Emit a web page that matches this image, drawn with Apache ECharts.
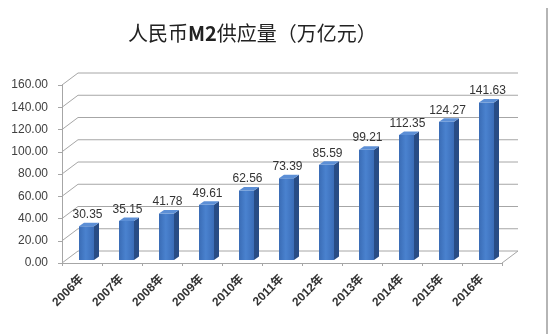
<!DOCTYPE html>
<html>
<head>
<meta charset="utf-8">
<script src="https://cdn.jsdelivr.net/npm/echarts@6/dist/echarts.min.js"></script>
<style>
  html, body { margin: 0; padding: 0; background: #fff; }
  #main { width: 550px; height: 334px; }
</style>
</head>
<body>
<div id="main"></div>
<script>
// Yearly M2 money supply (trillion yuan)
const years = ['2006年', '2007年', '2008年', '2009年', '2010年', '2011年', '2012年', '2013年', '2014年', '2015年', '2016年'];
const m2Values = [30.35, 35.15, 41.78, 49.61, 62.56, 73.39, 85.59, 99.21, 112.35, 124.27, 141.63];
const yTicks = [0, 20, 40, 60, 80, 100, 120, 140, 160];

// depth of the 3D box (back wall offset) and bar placement inside it
const WALL_DX = 16, WALL_DY = 12;
const BAR_DX = 4.5, BAR_DY = 3;
const BAR_W = 15, SIDE_DX = 5, SIDE_DY = 3.5;

const chart = echarts.init(document.getElementById('main'));

function renderWalls(params, api) {
  const v = api.value(0);
  const cs = params.coordSys;
  const y = api.coord([0, v])[1];
  const lineStyle = { stroke: '#a6a6a6', lineWidth: 1, fill: null };
  const children = [{
    type: 'polyline',
    shape: { points: [[cs.x, y], [cs.x + WALL_DX, y - WALL_DY], [cs.x + cs.width + WALL_DX, y - WALL_DY]] },
    style: lineStyle,
    silent: true
  }];
  if (v === 0) {
    children.push({
      type: 'line',
      shape: { x1: cs.x + cs.width, y1: y, x2: cs.x + cs.width + WALL_DX, y2: y - WALL_DY },
      style: lineStyle,
      silent: true
    });
  }
  return { type: 'group', children: children };
}

function renderBar(params, api) {
  const idx = api.value(0);
  const val = api.value(1);
  const base = api.coord([idx, 0]);
  const top = api.coord([idx, val]);
  const x0 = base[0] + BAR_DX - BAR_W / 2;
  const x1 = x0 + BAR_W;
  const yb = base[1] - BAR_DY;
  const yt = top[1] - BAR_DY;
  const front = {
    type: 'rect',
    shape: { x: x0, y: yt, width: BAR_W, height: yb - yt },
    style: {
      fill: new echarts.graphic.LinearGradient(0, 0, 1, 0, [
        { offset: 0, color: '#3a6cb5' },
        { offset: 0.45, color: '#4a82cf' },
        { offset: 1, color: '#3b6db8' }
      ])
    }
  };
  const side = {
    type: 'polygon',
    shape: { points: [[x1, yt], [x1 + SIDE_DX, yt - SIDE_DY], [x1 + SIDE_DX, yb - SIDE_DY], [x1, yb]] },
    style: { fill: '#284c85' }
  };
  const cap = {
    type: 'polygon',
    shape: { points: [[x0, yt], [x0 + SIDE_DX, yt - SIDE_DY], [x1 + SIDE_DX, yt - SIDE_DY], [x1, yt]] },
    style: { fill: '#5c8fd6' }
  };
  const label = {
    type: 'text',
    x: (x0 + x1) / 2 + 1,
    y: yt - SIDE_DY - 2,
    style: {
      text: val.toFixed(2),
      fill: '#333',
      font: '12px "Liberation Sans", Arial, sans-serif',
      textAlign: 'center',
      textVerticalAlign: 'bottom'
    }
  };
  return { type: 'group', children: [side, front, cap, label] };
}

chart.setOption({
  backgroundColor: '#ffffff',
  animation: false,
  title: {
    text: '{n|人民币}{m|M2}{n|供应量（万亿元）}',
    left: 123,
    top: 18,
    textStyle: {
      rich: {
        n: {
          fontFamily: '"Noto Sans CJK SC", sans-serif',
          fontSize: 20,
          fontWeight: 'normal',
          color: '#222'
        },
        m: {
          fontFamily: '"Noto Sans CJK SC", sans-serif',
          fontSize: 20,
          fontWeight: 'bold',
          color: '#222'
        }
      }
    }
  },
  grid: { left: 62, right: 48, top: 85, bottom: 71 },
  xAxis: {
    type: 'category',
    data: years,
    axisLine: { show: true, lineStyle: { color: '#a6a6a6', width: 1 } },
    axisTick: { show: true, length: 3, lineStyle: { color: '#a6a6a6' } },
    axisLabel: {
      rotate: 45,
      margin: 14,
      interval: 0,
      color: '#333',
      fontSize: 12,
      fontWeight: 'bold',
      fontFamily: '"Liberation Sans", "Noto Sans CJK SC", sans-serif'
    },
    splitLine: { show: false }
  },
  yAxis: {
    type: 'value',
    min: 0,
    max: 160,
    interval: 20,
    axisLine: { show: true, lineStyle: { color: '#a6a6a6', width: 1 } },
    axisTick: { show: true, length: 4, lineStyle: { color: '#a6a6a6' } },
    axisLabel: {
      margin: 14,
      color: '#404040',
      fontSize: 12,
      fontFamily: '"Liberation Sans", Arial, sans-serif',
      formatter: function (v) { return v.toFixed(2); }
    },
    splitLine: { show: false }
  },
  graphic: [{
    type: 'line',
    shape: { x1: 547, y1: 8, x2: 547, y2: 334 },
    style: { stroke: '#b5b5b5', lineWidth: 2 },
    silent: true
  }],
  series: [
    {
      type: 'custom',
      name: 'walls',
      renderItem: renderWalls,
      data: yTicks.map(function (v) { return [v]; }),
      encode: { y: 0 },
      silent: true,
      z: 1
    },
    {
      type: 'custom',
      name: 'M2',
      renderItem: renderBar,
      data: m2Values.map(function (v, i) { return [i, v]; }),
      encode: { x: 0, y: 1 },
      z: 3
    }
  ]
});
</script>
</body>
</html>
